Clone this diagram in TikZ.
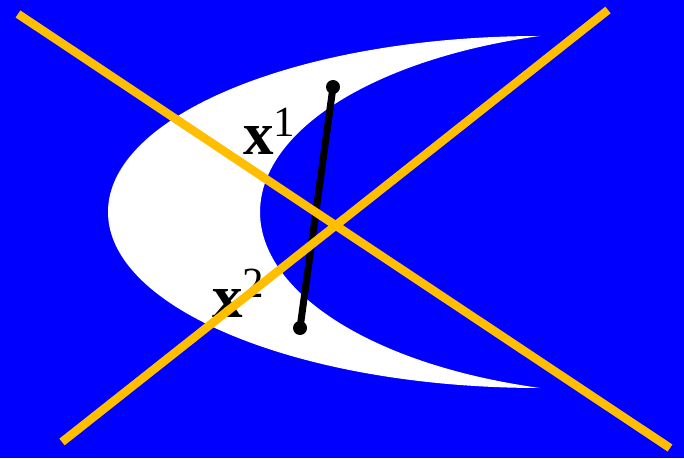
\documentclass[tikz,border=0pt]{standalone}
\usepackage{fontspec}
\setmainfont{Liberation Serif}
\definecolor{bgblue}{RGB}{0,0,255}
\definecolor{cutorange}{RGB}{255,191,0}
\usetikzlibrary{positioning}

\begin{document}
\begin{tikzpicture}[x=1pt,y=1pt,
  dot/.style={circle,fill=black,inner sep=0pt,minimum size=14pt},
  seg/.style={line width=7pt,black},
  cut/.style={line width=8.5pt,cutorange},
  lbl/.style={inner sep=0pt,anchor=base west,font=\fontsize{61}{61}\selectfont}]
\fill[bgblue] (0,0) rectangle (684,458);
\useasboundingbox (0,0) rectangle (684,458);
% crescent
\fill[white] (540,422) arc[start angle=90,end angle=270,x radius=432,y radius=176]
  arc[start angle=253.6,end angle=106.4,x radius=390,y radius=183.5] -- cycle;
% segment between the two points
\node[dot] (top) at (333,371) {};
\node[dot] (bot) at (300,130) {};
\draw[seg] (top.center) -- (bot.center);
\node[lbl] (x1) at (243,303) {\textbf{x}\raisebox{18pt}{\fontsize{43}{43}\selectfont 1}};
\node[lbl] (x2) at (212,141) {\textbf{x}\raisebox{20pt}{\fontsize{43}{43}\selectfont 2}};
% crossing lines
\coordinate (a1) at (18,444);
\coordinate (a2) at (670,10);
\coordinate (b1) at (62,16);
\coordinate (b2) at (608,448);
\draw[cut] (a1) -- (a2);
\draw[cut] (b1) -- (b2);
\end{tikzpicture}
\end{document}
